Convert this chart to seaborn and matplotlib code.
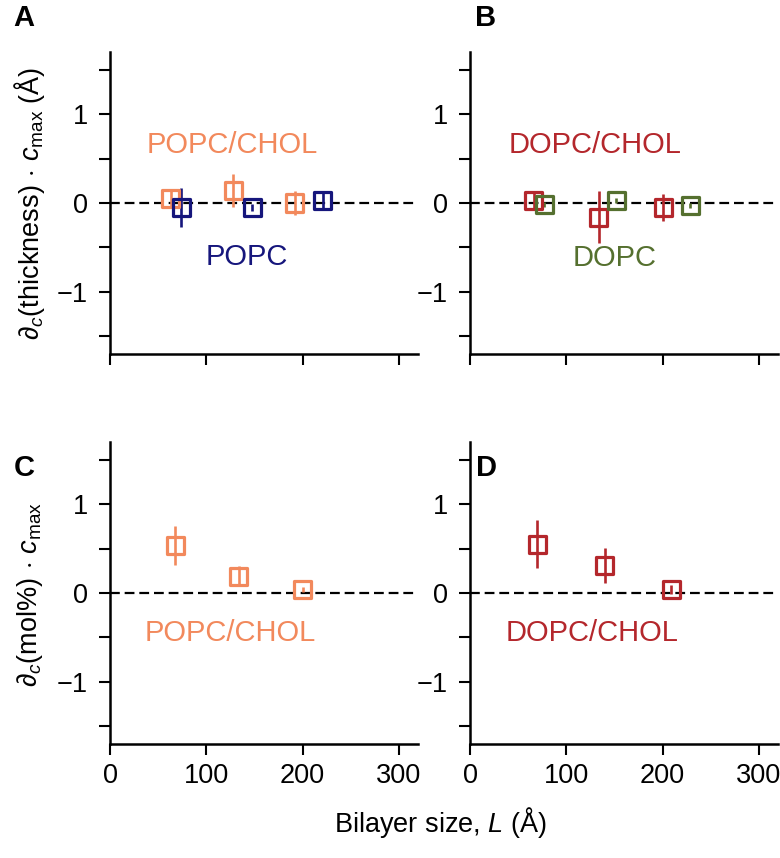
import numpy as np
import pandas as pd
import seaborn as sns
import matplotlib.pyplot as plt

# panel A: thickness, POPC/CHOL and POPC
popc_chol_L = [63, 128, 192]
popc_chol_thick = [0.05, 0.14, 0.00]
popc_chol_thick_err = [0.08, 0.19, 0.13]
popc_L = [74, 148, 221]
popc_thick = [-0.05, -0.05, 0.03]
popc_thick_err = [0.22, 0.04, 0.10]

# panel B: thickness, DOPC/CHOL and DOPC
dopc_chol_L = [66, 134, 201]
dopc_chol_thick = [0.03, -0.16, -0.05]
dopc_chol_thick_err = [0.09, 0.29, 0.15]
dopc_L = [77, 152, 229]
dopc_thick = [-0.02, 0.03, -0.03]
dopc_thick_err = [0.03, 0.03, 0.03]

# panels C, D: mol%
popc_chol_L2 = [68, 134, 200]
popc_chol_mol = [0.53, 0.19, 0.04]
popc_chol_mol_err = [0.22, 0.11, 0.03]
dopc_chol_L2 = [70, 140, 209]
dopc_chol_mol = [0.55, 0.31, 0.04]
dopc_chol_mol_err = [0.27, 0.20, 0.05]

SALMON = "#F2895C"
NAVY = "#16167C"
RED = "#B4272C"
GREEN = "#55702F"

sns.set_theme(style="ticks")
plt.rcParams["font.family"] = ["Liberation Sans", "DejaVu Sans"]
plt.rcParams["mathtext.fontset"] = "custom"
plt.rcParams["mathtext.rm"] = "Liberation Sans"
plt.rcParams["mathtext.it"] = "Liberation Sans:italic"
plt.rcParams["text.color"] = "black"
plt.rcParams["axes.labelcolor"] = "black"

fig = plt.figure(figsize=(7.8, 8.58), dpi=100)
W, H = 780, 858
def add_ax(l, t, r, b):
    return fig.add_axes([l / W, 1 - b / H, (r - l) / W, (b - t) / H])

axA = add_ax(110, 52, 418, 354)
axB = add_ax(470, 52, 778, 354)
axC = add_ax(110, 442, 418, 744)
axD = add_ax(470, 442, 778, 744)


def draw_series(ax, L, y, err, color):
    df = pd.DataFrame({"L": L, "y": y, "err": err})
    ax.errorbar(df["L"], df["y"], yerr=df["err"], fmt="none", ecolor=color,
                elinewidth=1.9, capsize=0, zorder=3)
    sns.scatterplot(data=df, x="L", y="y", ax=ax, marker="s", s=150,
                    facecolors="none", edgecolor=color, linewidth=2.3, zorder=4)


def style(ax, bottom_labels):
    ax.axhline(0, color="black", lw=1.6, ls=(0, (4.4, 2.2)), zorder=1)
    ax.set_xlim(0, 320)
    ax.set_ylim(-1.7, 1.7)
    ax.set_xticks([0, 100, 200, 300])
    ax.set_yticks([-1, 0, 1])
    ax.set_yticks([-1.5, -0.5, 0.5, 1.5], minor=True)
    ax.set_yticklabels(["\u22121", "0", "1"])
    if not bottom_labels:
        ax.set_xticklabels([])
    ax.tick_params(which="both", direction="out", width=1.5, labelsize=19.5,
                   colors="black")
    ax.tick_params(which="major", length=8)
    ax.tick_params(which="minor", length=8)
    ax.tick_params(axis="y", pad=8)
    ax.tick_params(axis="x", pad=6)
    for side in ["top", "right"]:
        ax.spines[side].set_visible(False)
    for side in ["left", "bottom"]:
        ax.spines[side].set_linewidth(1.8)
        ax.spines[side].set_color("black")
    ax.set_xlabel("")
    ax.set_ylabel("")


draw_series(axA, popc_chol_L, popc_chol_thick, popc_chol_thick_err, SALMON)
draw_series(axA, popc_L, popc_thick, popc_thick_err, NAVY)
draw_series(axB, dopc_chol_L, dopc_chol_thick, dopc_chol_thick_err, RED)
draw_series(axB, dopc_L, dopc_thick, dopc_thick_err, GREEN)
draw_series(axC, popc_chol_L2, popc_chol_mol, popc_chol_mol_err, SALMON)
draw_series(axD, dopc_chol_L2, dopc_chol_mol, dopc_chol_mol_err, RED)

style(axA, False)
style(axB, False)
style(axC, True)
style(axD, True)

axA.text(127, 0.65, "POPC/CHOL", color=SALMON, fontsize=21, ha="center", va="center")
axA.text(142, -0.61, "POPC", color=NAVY, fontsize=21, ha="center", va="center")
axB.text(130, 0.65, "DOPC/CHOL", color=RED, fontsize=21, ha="center", va="center")
axB.text(150, -0.62, "DOPC", color=GREEN, fontsize=21, ha="center", va="center")
axC.text(125, -0.45, "POPC/CHOL", color=SALMON, fontsize=21, ha="center", va="center")
axD.text(127, -0.45, "DOPC/CHOL", color=RED, fontsize=21, ha="center", va="center")

fig.text(30 / W, 1 - 203 / H, r"$\partial_c$(thickness)$\,\cdot\,c_{\rm max}$ (Å)",
         rotation=90, fontsize=19.5, ha="center", va="center")
fig.text(30 / W, 1 - 594 / H, r"$\partial_c$(mol%)$\,\cdot\,c_{\rm max}$",
         rotation=90, fontsize=19.5, ha="center", va="center")
fig.text(440 / W, 1 - 822 / H, r"Bilayer size, $L$ (Å)", fontsize=19.5,
         ha="center", va="center")

for lab, x, y in [("A", 24, 18), ("B", 486, 18), ("C", 24, 468), ("D", 486, 468)]:
    fig.text(x / W, 1 - y / H, lab, fontsize=21, fontweight="bold",
             ha="center", va="center")

fig.savefig("out.png", dpi=100)
